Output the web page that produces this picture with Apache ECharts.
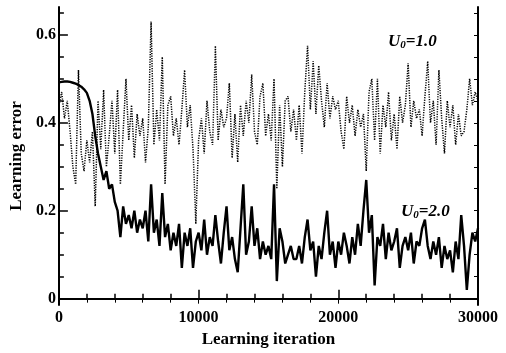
<!DOCTYPE html>
<html>
<head>
<meta charset="utf-8">
<script src="https://cdn.jsdelivr.net/npm/echarts@6/dist/echarts.min.js"></script>
<style>
html, body { margin: 0; padding: 0; background: #fff; }
#main { width: 506px; height: 353px; }
</style>
</head>
<body>
<div id="main"></div>
<script>
// sampling step of both curves (learning iterations)
var step = 200;

// U0=2.0, solid line, one value every 200 iterations from 0 to 30000
var errU2 = [
    0.492, 0.493, 0.494, 0.494, 0.493,
    0.491, 0.489, 0.486, 0.482, 0.476,
    0.468, 0.45, 0.42, 0.37, 0.33,
    0.30, 0.27, 0.29, 0.25, 0.26,
    0.22, 0.2, 0.14, 0.21, 0.17,
    0.19, 0.16, 0.2, 0.15, 0.18,
    0.16, 0.2, 0.13, 0.26, 0.15,
    0.18, 0.12, 0.24, 0.14, 0.17,
    0.11, 0.15, 0.12, 0.17, 0.07,
    0.15, 0.12, 0.16, 0.07, 0.13,
    0.15, 0.11, 0.18, 0.1, 0.14,
    0.12, 0.19, 0.13, 0.08, 0.15,
    0.21, 0.11, 0.14, 0.09, 0.06,
    0.16, 0.26, 0.1, 0.13, 0.21,
    0.12, 0.16, 0.09, 0.13, 0.1,
    0.12, 0.09, 0.26, 0.04, 0.16,
    0.13, 0.08, 0.1, 0.12, 0.09,
    0.09, 0.12, 0.08, 0.14, 0.18,
    0.11, 0.13, 0.05, 0.12, 0.09,
    0.15, 0.2, 0.1, 0.13, 0.07,
    0.13, 0.1, 0.15, 0.12, 0.08,
    0.14, 0.1, 0.17, 0.12, 0.2,
    0.27, 0.15, 0.19, 0.03, 0.14,
    0.12, 0.17, 0.09, 0.15, 0.11,
    0.13, 0.16, 0.07, 0.12, 0.14,
    0.11, 0.15, 0.08, 0.13, 0.12,
    0.16, 0.18, 0.12, 0.09, 0.13,
    0.1, 0.14, 0.07, 0.12, 0.09,
    0.11, 0.06, 0.13, 0.09, 0.19,
    0.12, 0.02, 0.1, 0.15, 0.13,
    0.16
];

// U0=1.0, dotted line
var errU1 = [
    0.44, 0.47, 0.41, 0.45, 0.38,
    0.30, 0.26, 0.52, 0.33, 0.29,
    0.36, 0.31, 0.38, 0.21, 0.45,
    0.34, 0.475, 0.3, 0.37, 0.45,
    0.33, 0.475, 0.26, 0.38, 0.5,
    0.36, 0.44, 0.32, 0.42, 0.37,
    0.41, 0.31, 0.39, 0.63, 0.35,
    0.43, 0.36, 0.55, 0.26, 0.44,
    0.46, 0.37, 0.41, 0.35, 0.43,
    0.52, 0.39, 0.44, 0.34, 0.17,
    0.36, 0.41, 0.33, 0.45, 0.38,
    0.35, 0.575, 0.36, 0.43, 0.39,
    0.41, 0.49, 0.32, 0.42, 0.31,
    0.44, 0.37, 0.45, 0.40, 0.51,
    0.38, 0.35, 0.46, 0.49, 0.37,
    0.42, 0.36, 0.50, 0.25, 0.44,
    0.30, 0.45, 0.46, 0.38, 0.43,
    0.36, 0.44, 0.33, 0.47, 0.575,
    0.43, 0.54, 0.42, 0.53, 0.45,
    0.39, 0.49, 0.41, 0.46, 0.43,
    0.45, 0.38, 0.34, 0.46, 0.40,
    0.44, 0.37, 0.43, 0.39, 0.42,
    0.29, 0.47, 0.50, 0.36, 0.5,
    0.33, 0.44, 0.39, 0.47, 0.36,
    0.42, 0.34, 0.46, 0.40, 0.44,
    0.535, 0.39, 0.45, 0.41, 0.43,
    0.37, 0.46, 0.54, 0.40, 0.45,
    0.35, 0.52, 0.41, 0.33, 0.45,
    0.39, 0.44, 0.35, 0.42, 0.37,
    0.38, 0.43, 0.50, 0.44, 0.47,
    0.45
];

var xLabels = [0, 10000, 20000, 30000];
var yLabels = [0, 0.2, 0.4, 0.6];
var yMinorTicks = [0, 0.05, 0.1, 0.15, 0.2, 0.25, 0.3, 0.35, 0.4, 0.45, 0.5, 0.55, 0.6, 0.65];

var Y_MIN = -0.0144, Y_MAX = 0.6633;
var FONT = '"Liberation Serif", "DejaVu Serif", serif';

function toPairs(arr) {
    var out = [];
    for (var i = 0; i < arr.length; i++) {
        out.push([i * step, arr[i]]);
    }
    return out;
}

var myChart = echarts.init(document.getElementById('main'));

var axisLineStyle = { show: true, lineStyle: { color: '#000', width: 2 } };
var annoRich = {
    a: { fontFamily: FONT, fontStyle: 'italic', fontWeight: 'bold', fontSize: 17, fill: '#000' },
    s: { fontFamily: FONT, fontStyle: 'italic', fontWeight: 'bold', fontSize: 11, fill: '#000', padding: [7, 0, 0, 0] }
};

var option = {
    animation: false,
    backgroundColor: '#fff',
    grid: { left: 53, right: 28, top: 7, bottom: 40 },
    xAxis: [
        {
            type: 'value',
            position: 'bottom',
            min: 0, max: 30000, interval: 10000,
            axisLine: axisLineStyle,
            axisTick: { show: true, inside: true, length: 9, lineStyle: { color: '#000', width: 1.5 } },
            minorTick: { show: true, splitNumber: 5, length: 5, lineStyle: { color: '#000', width: 1.5 } },
            axisLabel: {
                customValues: xLabels,
                margin: 5,
                formatter: function (v) { return String(v); },
                color: '#000', fontFamily: FONT, fontWeight: 'bold', fontSize: 16
            },
            splitLine: { show: false },
            minorSplitLine: { show: false },
            name: 'Learning iteration',
            nameLocation: 'middle',
            nameGap: 26,
            nameTextStyle: { color: '#000', fontFamily: FONT, fontWeight: 'bold', fontSize: 17 }
        },
        {
            type: 'value',
            position: 'top',
            min: 0, max: 30000, interval: 10000,
            axisLine: axisLineStyle,
            axisTick: { show: true, inside: true, length: 5, lineStyle: { color: '#000' } },
            minorTick: { show: true, splitNumber: 5, length: 4, lineStyle: { color: '#000' } },
            axisLabel: { show: false },
            splitLine: { show: false }
        }
    ],
    yAxis: [
        {
            type: 'value',
            position: 'left',
            min: Y_MIN, max: Y_MAX,
            axisLine: axisLineStyle,
            axisTick: { show: true, inside: true, length: 9, customValues: yLabels, lineStyle: { color: '#000', width: 1.5 } },
            axisLabel: {
                customValues: yLabels,
                margin: 3,
                color: '#000', fontFamily: FONT, fontWeight: 'bold', fontSize: 16
            },
            splitLine: { show: false },
            name: 'Learning error',
            nameLocation: 'middle',
            nameGap: 30,
            nameTextStyle: { color: '#000', fontFamily: FONT, fontWeight: 'bold', fontSize: 17 }
        },
        {
            type: 'value',
            position: 'left',
            min: Y_MIN, max: Y_MAX,
            axisLine: { show: false },
            axisTick: { show: true, inside: true, length: 5, customValues: yMinorTicks, lineStyle: { color: '#000', width: 1.5 } },
            axisLabel: { show: false },
            splitLine: { show: false }
        },
        {
            type: 'value',
            position: 'right',
            min: Y_MIN, max: Y_MAX,
            axisLine: axisLineStyle,
            axisTick: { show: true, inside: true, length: 4, customValues: yMinorTicks, lineStyle: { color: '#000' } },
            axisLabel: { show: false },
            splitLine: { show: false }
        }
    ],
    series: [
        {
            name: 'U0=1.0',
            type: 'line',
            showSymbol: false,
            data: toPairs(errU1),
            lineStyle: { color: '#000', width: 1.5, type: [1.2, 1.3] },
            z: 2
        },
        {
            name: 'U0=2.0',
            type: 'line',
            showSymbol: false,
            data: toPairs(errU2),
            lineStyle: { color: '#000', width: 2.4 },
            z: 3
        }
    ],
    graphic: [
        {
            type: 'text', left: 388, top: 33,
            style: { text: '{a|U}{s|0}{a|=1.0}', rich: annoRich }
        },
        {
            type: 'text', left: 401, top: 203,
            style: { text: '{a|U}{s|0}{a|=2.0}', rich: annoRich }
        }
    ]
};

myChart.setOption(option);
</script>
</body>
</html>
